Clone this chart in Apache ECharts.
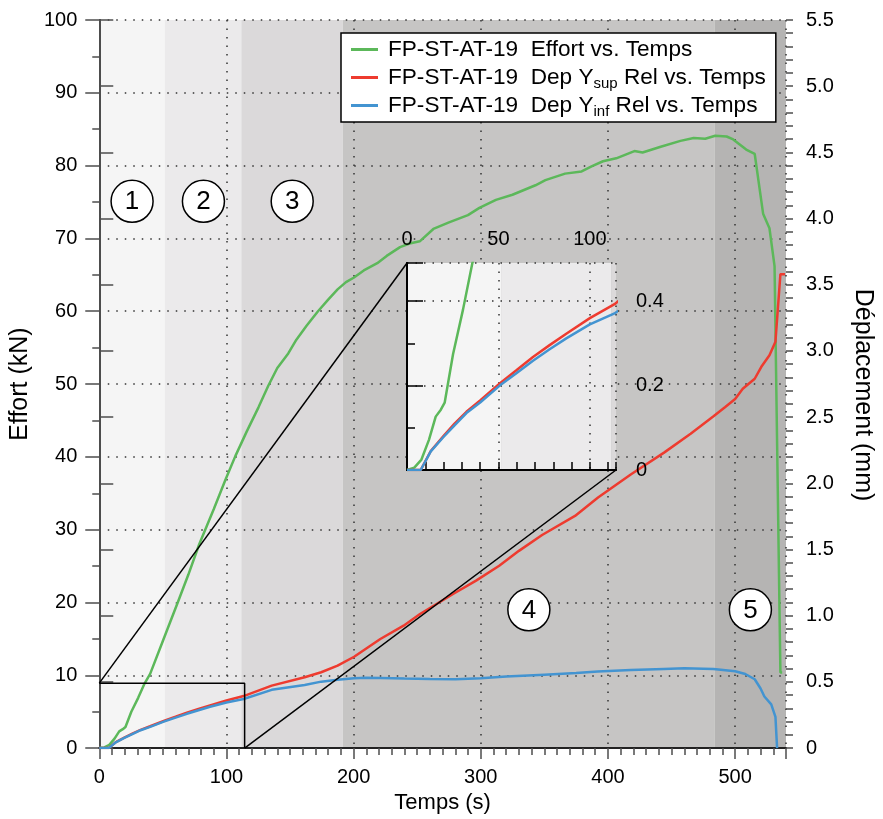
<!DOCTYPE html>
<html>
<head>
<meta charset="utf-8">
<script src="https://cdn.jsdelivr.net/npm/echarts@6/dist/echarts.min.js"></script>
<style>html,body{margin:0;padding:0;background:#fff}#c{width:883px;height:819px}</style>
</head>
<body>
<div id="c"></div>
<script>
// ---- data ----
const effortT = [0, 4, 7.9, 12, 15.7, 18.5, 20.6, 25.2, 30.6, 35.7, 40, 50, 61.7, 70, 78.6, 90, 99.3, 107, 116, 125.2, 133, 140, 148.6, 155, 163, 172, 180, 187.4, 194, 200, 208, 218.6, 226, 236.5, 244, 252, 262.7, 275, 289.9, 298.9, 311.9, 324.9, 343, 350.8, 366.3, 379.3, 387.1, 396.1, 406.5, 420.8, 427.2, 441.5, 457, 467.4, 476.5, 484.3, 493.3, 498.5, 508.7, 515.4, 522, 527, 531, 535.6, 537];
const effortV = [0, 0.1, 0.45, 1.3, 2.3, 2.6, 2.9, 5.0, 6.9, 8.9, 10.2, 14.7, 20.0, 23.8, 28.0, 32.8, 36.9, 40.1, 43.5, 46.8, 49.8, 52.2, 54.2, 56.1, 58.0, 60.0, 61.6, 63.0, 64.0, 64.6, 65.6, 66.6, 67.6, 68.8, 69.3, 69.6, 71.3, 72.2, 73.2, 74.2, 75.3, 76.0, 77.3, 78.0, 78.9, 79.2, 79.9, 80.6, 81.0, 82.0, 81.8, 82.6, 83.4, 83.8, 83.7, 84.1, 84.0, 83.6, 82.2, 81.6, 73.4, 71.4, 66.2, 10.4, 10.4];

const supT = [0, 7.5, 13, 19.7, 26, 32.5, 40, 50.7, 60, 68.9, 78, 87.1, 100, 113.5, 135.6, 161.5, 174.5, 187.4, 200.4, 221, 239.3, 252.2, 278.2, 296.3, 314.5, 330, 348.2, 374.1, 392.2, 418.2, 444.1, 465, 483, 492, 500, 506, 515.4, 520.6, 527, 531.7, 535.6, 539.2];
const supV = [0, 0, 0.045, 0.079, 0.11, 0.138, 0.165, 0.205, 0.237, 0.268, 0.296, 0.323, 0.36, 0.393, 0.472, 0.535, 0.573, 0.623, 0.69, 0.824, 0.925, 1.013, 1.164, 1.265, 1.377, 1.49, 1.61, 1.754, 1.893, 2.069, 2.232, 2.375, 2.506, 2.575, 2.637, 2.714, 2.79, 2.88, 2.967, 3.07, 3.58, 3.58];

const infT = [0, 7.5, 13, 19.7, 26, 32.5, 40, 50.7, 60, 68.9, 78, 87.1, 100, 113.5, 135.6, 161.5, 174.5, 187.4, 200.4, 210, 221, 240, 260, 280, 300, 320, 350, 375, 392, 418, 444, 460, 475, 483, 500, 508, 515.4, 520, 523, 528.4, 531.7, 533];
const infV = [0, 0, 0.044, 0.077, 0.106, 0.135, 0.16, 0.2, 0.23, 0.259, 0.286, 0.312, 0.345, 0.371, 0.44, 0.477, 0.502, 0.517, 0.528, 0.532, 0.53, 0.525, 0.522, 0.52, 0.528, 0.54, 0.555, 0.568, 0.578, 0.59, 0.598, 0.603, 0.6, 0.598, 0.58, 0.56, 0.52, 0.45, 0.39, 0.33, 0.236, 0];

const zoneStart = [0, 51.5, 111.7, 191.5, 483.7];
const zoneEnd = [51.5, 111.7, 191.5, 483.7, 540];
const zoneColors = ['#f5f5f5', '#ebeaeb', '#dbd9da', '#c6c5c4', '#b5b4b3'];

const markerText = ['1', '2', '3', '4', '5'];
const markerT = [25.8, 81.9, 151.7, 337.8, 512];
const markerKN = [75.1, 75.1, 75.1, 19.0, 19.0];

const xTickLabels = [0, 100, 200, 300, 400, 500];
const insetXMax = 114.3;   // s
const insetKNMax = 8.92;   // kN
const kNmax = 100, mmMax = 5.5;
const insetMmMax = insetKNMax * mmMax / kNmax;

const nameEffort = 'FP-ST-AT-19  Effort vs. Temps';
const nameSup = 'FP-ST-AT-19  Dep Ysup Rel vs. Temps';
const nameInf = 'FP-ST-AT-19  Dep Yinf Rel vs. Temps';

const FONT = 'Liberation Sans, Arial, Helvetica, sans-serif';
const GREEN = '#5cb85a', RED = '#ee3b2f', BLUE = '#4394d1';
const AX = '#4d4d4d';

const zip = (a, b) => a.map((v, i) => [v, b[i]]);
const zoneData = zoneStart.map((s, i) => [s, zoneEnd[i], i]);

function renderZone(params, api) {
  const x0 = api.coord([api.value(0), 0])[0];
  const x1 = api.coord([api.value(1), 0])[0];
  const cs = params.coordSys;
  const r = echarts.graphic.clipRectByRect(
    {x: x0, y: cs.y, width: x1 - x0, height: cs.height},
    {x: cs.x, y: cs.y, width: cs.width, height: cs.height});
  if (!r) return;
  return {type: 'rect', shape: r, style: {fill: zoneColors[api.value(2)]}};
}

const dotted = {show: true, lineStyle: {color: '#333', width: 1.5, type: [1.5, 7]}};
const labelStyle = {color: '#000', fontSize: 20, fontFamily: FONT};
const nameStyleX = {color: '#000', fontSize: 22, fontFamily: FONT};
const nameStyleY = {color: '#000', fontSize: 25, fontFamily: FONT};

const chart = echarts.init(document.getElementById('c'), null, {renderer: 'canvas'});

const option = {
  animation: false,
  backgroundColor: '#fff',
  grid: [
    {left: 98, top: 20, width: 695, height: 729, containLabel: false},
    {left: 407, top: 263, width: 209, height: 207, containLabel: false}
  ],
  legend: {
    data: [nameEffort, nameSup, nameInf],
    orient: 'vertical', left: 341, top: 33, z: 20,
    backgroundColor: '#fff', borderColor: '#000', borderWidth: 1.5,
    padding: [3, 10, 3, 10], itemGap: 1,
    icon: 'rect', itemWidth: 27, itemHeight: 3,
    selectedMode: false,
    textStyle: {padding: [0, 0, 0, 5], rich: {
      t: {fontSize: 22.6, fontFamily: FONT, color: '#000', lineHeight: 27, verticalAlign: 'middle'},
      s: {fontSize: 15, fontFamily: FONT, color: '#000', lineHeight: 15, padding: [12, 0, 0, 0], verticalAlign: 'bottom'}
    }},
    formatter: function (n) {
      if (n === nameSup) return '{t|FP-ST-AT-19  Dep Y}{s|sup}{t| Rel vs. Temps}';
      if (n === nameInf) return '{t|FP-ST-AT-19  Dep Y}{s|inf}{t| Rel vs. Temps}';
      return '{t|' + n + '}{s| }';
    }
  },
  xAxis: [
    { // 0 main bottom labels
      gridIndex: 0, type: 'value', position: 'bottom', min: 0, max: 540, interval: 100, z: 2,
      name: 'Temps (s)', nameLocation: 'middle', nameGap: 43, nameTextStyle: nameStyleX,
      axisLine: {show: true, lineStyle: {color: AX, width: 2}},
      axisTick: {show: true, length: 11, lineStyle: {color: AX, width: 1.5}},
      axisLabel: Object.assign({margin: 19, formatter: v => xTickLabels.indexOf(v) >= 0 ? String(v) : ''}, labelStyle),
      splitLine: dotted
    },
    { // 1 main bottom minor ticks
      gridIndex: 0, type: 'value', position: 'bottom', min: 0, max: 540, interval: 10, z: 2,
      axisLine: {show: false}, axisLabel: {show: false}, splitLine: {show: false},
      axisTick: {show: true, length: 7, lineStyle: {color: AX, width: 1.5}}
    },
    { // 2 main top frame
      gridIndex: 0, type: 'value', position: 'top', min: 0, max: 540, z: 2,
      axisLine: {show: true, lineStyle: {color: '#222', width: 2}},
      axisTick: {show: false}, axisLabel: {show: false}, splitLine: {show: false}
    },
    { // 3 inset top labels
      gridIndex: 1, type: 'value', position: 'top', min: 0, max: insetXMax, interval: 50, z: 6,
      axisLine: {show: true, lineStyle: {color: '#000', width: 2}},
      axisTick: {show: true, length: 8, lineStyle: {color: '#000', width: 1.5}},
      axisLabel: Object.assign({margin: 14, formatter: v => (v % 50 === 0) ? String(v) : ''}, labelStyle),
      splitLine: dotted
    },
    { // 4 inset top minor ticks
      gridIndex: 1, type: 'value', position: 'top', min: 0, max: insetXMax, interval: 10, z: 6,
      axisLine: {show: false}, axisLabel: {show: false}, splitLine: {show: false},
      axisTick: {show: true, length: 8, lineStyle: {color: '#000', width: 1.5}}
    },
    { // 5 inset bottom frame
      gridIndex: 1, type: 'value', position: 'bottom', min: 0, max: insetXMax, z: 6,
      axisLine: {show: true, lineStyle: {color: '#000', width: 2}},
      axisTick: {show: false}, axisLabel: {show: false}, splitLine: {show: false}
    }
  ],
  yAxis: [
    { // 0 main left labels
      gridIndex: 0, type: 'value', position: 'left', min: 0, max: kNmax, interval: 10, z: 2,
      name: 'Effort (kN)', nameLocation: 'middle', nameGap: 64, nameTextStyle: nameStyleY,
      axisLine: {show: true, lineStyle: {color: AX, width: 2}},
      axisTick: {show: true, length: 14, lineStyle: {color: AX, width: 1.5}},
      axisLabel: Object.assign({margin: 22}, labelStyle),
      splitLine: dotted
    },
    { // 1 main left minor
      gridIndex: 0, type: 'value', position: 'left', min: 0, max: kNmax, interval: 5, z: 2,
      axisLine: {show: false}, axisLabel: {show: false}, splitLine: {show: false},
      axisTick: {show: true, length: 7, lineStyle: {color: AX, width: 1.5}}
    },
    { // 2 main right labels
      gridIndex: 0, type: 'value', position: 'right', min: 0, max: mmMax, interval: 0.5, z: 2,
      name: 'Déplacement (mm)', nameLocation: 'middle', nameGap: 64, nameRotate: -90,
      nameTextStyle: Object.assign({padding: [0, 0, 0, 22]}, nameStyleY),
      axisLine: {show: true, lineStyle: {color: AX, width: 2}},
      axisTick: {show: true, length: 14, lineStyle: {color: AX, width: 1.5}},
      axisLabel: Object.assign({margin: 20, formatter: v => v === 0 ? '0' : v.toFixed(1)}, labelStyle),
      splitLine: {show: false}
    },
    { // 3 main right minor
      gridIndex: 0, type: 'value', position: 'right', min: 0, max: mmMax, interval: 0.1, z: 2,
      axisLine: {show: false}, axisLabel: {show: false}, splitLine: {show: false},
      axisTick: {show: true, length: 7, lineStyle: {color: AX, width: 1.5}}
    },
    { // 4 inset right labels (mm)
      gridIndex: 1, type: 'value', position: 'right', min: 0, max: insetMmMax, interval: 0.2, z: 6,
      axisLine: {show: true, lineStyle: {color: '#000', width: 2}},
      axisTick: {show: true, length: 16, lineStyle: {color: '#000', width: 1.5}},
      axisLabel: Object.assign({margin: 20, formatter: v => {
        const k = v * 5; if (Math.abs(k - Math.round(k)) > 1e-6) return '';
        return v === 0 ? '0' : v.toFixed(1);
      }}, labelStyle),
      splitLine: dotted
    },
    { // 5 inset right minor
      gridIndex: 1, type: 'value', position: 'right', min: 0, max: insetMmMax, interval: 0.1, z: 6,
      axisLine: {show: false}, axisLabel: {show: false}, splitLine: {show: false},
      axisTick: {show: true, length: 8, lineStyle: {color: '#000', width: 1.5}}
    },
    { // 6 inset left frame, kN scale
      gridIndex: 1, type: 'value', position: 'left', min: 0, max: insetKNMax, z: 6,
      axisLine: {show: true, lineStyle: {color: '#000', width: 2}},
      axisTick: {show: false}, axisLabel: {show: false}, splitLine: {show: false}
    }
  ],
  series: [
    {type: 'custom', name: 'zones', xAxisIndex: 0, yAxisIndex: 0, z: 1, silent: true,
     renderItem: renderZone, data: zoneData, encode: {x: [0, 1]}},
    {type: 'line', name: nameEffort, xAxisIndex: 0, yAxisIndex: 0, z: 3, showSymbol: false, symbol: 'none',
     color: GREEN, lineStyle: {width: 2.5, color: GREEN}, data: zip(effortT, effortV)},
    {type: 'line', name: nameSup, xAxisIndex: 0, yAxisIndex: 2, z: 3, showSymbol: false, symbol: 'none',
     color: RED, lineStyle: {width: 2.5, color: RED}, data: zip(supT, supV)},
    {type: 'line', name: nameInf, xAxisIndex: 0, yAxisIndex: 2, z: 3, showSymbol: false, symbol: 'none',
     color: BLUE, lineStyle: {width: 2.5, color: BLUE}, data: zip(infT, infV)},
    {type: 'line', name: 'zoomRect', xAxisIndex: 0, yAxisIndex: 0, z: 4, symbol: 'none', silent: true,
     lineStyle: {width: 1.5, color: '#000'}, data: [[0, insetKNMax], [insetXMax, insetKNMax], [insetXMax, 0]]},
    {type: 'custom', name: 'insetZones', xAxisIndex: 3, yAxisIndex: 6, z: 5, silent: true,
     renderItem: renderZone, data: zoneData, encode: {x: [0, 1]}},
    {type: 'line', name: 'inset effort', xAxisIndex: 3, yAxisIndex: 6, z: 7, symbol: 'none', clip: true,
     lineStyle: {width: 2.5, color: GREEN}, data: zip(effortT, effortV)},
    {type: 'line', name: 'inset sup', xAxisIndex: 3, yAxisIndex: 4, z: 7, symbol: 'none', clip: true,
     lineStyle: {width: 2.5, color: RED}, data: zip(supT, supV)},
    {type: 'line', name: 'inset inf', xAxisIndex: 3, yAxisIndex: 4, z: 7, symbol: 'none', clip: true,
     lineStyle: {width: 2.5, color: BLUE}, data: zip(infT, infV)}
  ]
};
chart.setOption(option);

// connectors and zone numbers, placed through the axes
const mainPx = p => chart.convertToPixel({xAxisIndex: 0, yAxisIndex: 0}, p);
const insetPx = p => chart.convertToPixel({xAxisIndex: 3, yAxisIndex: 6}, p);
const a1 = mainPx([0, insetKNMax]), b1 = insetPx([0, insetKNMax]);
const a2 = mainPx([insetXMax, 0]), b2 = insetPx([insetXMax, 0]);
const graphics = [
  {type: 'line', z: 4, silent: true, shape: {x1: a1[0], y1: a1[1], x2: b1[0], y2: b1[1]}, style: {stroke: '#000', lineWidth: 1.5}},
  {type: 'line', z: 4, silent: true, shape: {x1: a2[0], y1: a2[1], x2: b2[0], y2: b2[1]}, style: {stroke: '#000', lineWidth: 1.5}}
];
markerText.forEach((t, i) => {
  const p = mainPx([markerT[i], markerKN[i]]);
  graphics.push({type: 'circle', z: 10, silent: true, shape: {cx: p[0], cy: p[1], r: 21},
    style: {fill: '#fff', stroke: '#000', lineWidth: 1.5}});
  graphics.push({type: 'text', z: 11, silent: true, x: p[0], y: p[1] + 1,
    style: {text: t, align: 'center', verticalAlign: 'middle', fontSize: 26, fontFamily: FONT, fill: '#000'}});
});
chart.setOption({graphic: graphics});
</script>
</body>
</html>
